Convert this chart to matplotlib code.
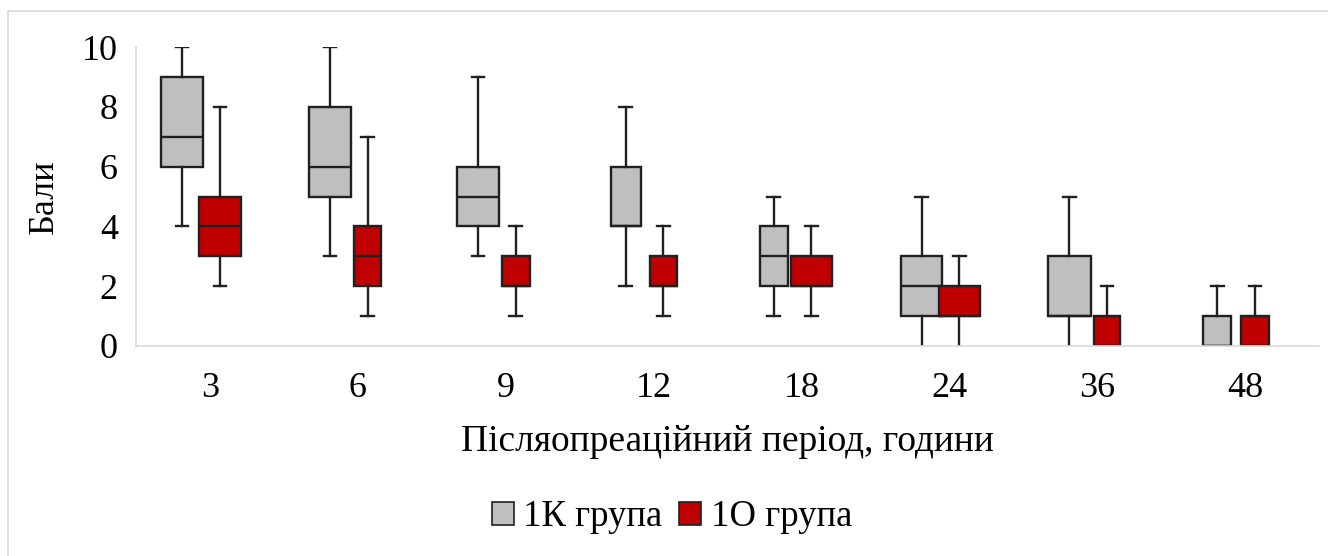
import numpy as np
import matplotlib.pyplot as plt
from matplotlib.patches import Patch, Rectangle

plt.rcParams['font.family'] = ['Liberation Serif', 'DejaVu Serif']

hours = ['3', '6', '9', '12', '18', '24', '36', '48']

# 1К група
k_lo = [4, 3, 3, 2, 1, 0, 0, 0]
k_q1 = [6, 5, 4, 4, 2, 1, 1, 0]
k_med = [7, 6, 5, 4, 3, 2, 1, 0]
k_q3 = [9, 8, 6, 6, 4, 3, 3, 1]
k_hi = [10, 10, 9, 8, 5, 5, 5, 2]

# 1О група
o_lo = [2, 1, 1, 1, 1, 0, 0, 0]
o_q1 = [3, 2, 2, 2, 2, 1, 0, 0]
o_med = [4, 3, 2, 2, 2, 1, 0, 0]
o_q3 = [5, 4, 3, 3, 3, 2, 1, 1]
o_hi = [8, 7, 4, 4, 4, 3, 2, 2]

# box widths as drawn in the original (style only)
k_w = [0.28, 0.28, 0.28, 0.2, 0.19, 0.28, 0.29, 0.19]
o_w = [0.28, 0.18, 0.19, 0.18, 0.28, 0.28, 0.18, 0.19]

def stats(lo, q1, med, q3, hi):
    return [dict(whislo=a, q1=b, med=c, q3=d, whishi=e, fliers=[])
            for a, b, c, d, e in zip(lo, q1, med, q3, hi)]

fig = plt.figure(figsize=(13.28, 5.56), dpi=100)
ax = fig.add_axes([136/1328, 1 - 346/556, 1183/1328, 299/556])

x = np.arange(len(hours))
edge = '#202020'
lw = 1.7

for st, pos, w, col in [(stats(k_lo, k_q1, k_med, k_q3, k_hi), x - 0.188, k_w, '#bfbfbf'),
                        (stats(o_lo, o_q1, o_med, o_q3, o_hi), x + 0.067, o_w, '#c00000')]:
    b = ax.bxp(st, positions=pos, widths=w, patch_artist=True, showfliers=False,
               boxprops=dict(facecolor=col, edgecolor=edge, linewidth=lw),
               medianprops=dict(color=edge, linewidth=lw),
               whiskerprops=dict(color=edge, linewidth=lw),
               capprops=dict(color=edge, linewidth=lw),
               capwidths=0.085, manage_ticks=False)
    # caps lying on the axis are not visible in the original
    for s, cap in zip([v for s in st for v in (s['whislo'], s['whishi'])], b['caps']):
        if s == 0:
            cap.set_visible(False)

ax.set_xlim(-0.5, 7.5)
ax.set_ylim(0, 10)
ax.set_yticks([0, 2, 4, 6, 8, 10])
ax.set_xticks(x)
ax.set_xticklabels(hours)
ax.tick_params(length=0, labelsize=26, colors='#000000')
ax.tick_params(axis='y', pad=13)
ax.tick_params(axis='x', pad=19)
for s in ['top', 'right']:
    ax.spines[s].set_visible(False)
for s in ['left', 'bottom']:
    ax.spines[s].set_color('#d9d9d9')
    ax.spines[s].set_linewidth(1.2)

ax.set_ylabel('Бали', fontsize=26, labelpad=15)
ax.set_xlabel('Післяопреаційний період, години', fontsize=27, labelpad=14)

handles = [Patch(facecolor='#bfbfbf', edgecolor=edge, linewidth=1.2, label='1К група'),
           Patch(facecolor='#c00000', edgecolor=edge, linewidth=1.2, label='1О група')]
fig.legend(handles=handles, loc='center', bbox_to_anchor=(672/1328, 1 - 517/556),
           ncol=2, frameon=False, fontsize=26.5, handlelength=0.6, handleheight=0.6,
           handletextpad=0.25, columnspacing=0.45)

fig.patches.append(Rectangle((8/1328, -0.1), 1.1, 1 - 11/556 + 0.1, transform=fig.transFigure,
                             fill=False, edgecolor='#d9d9d9', linewidth=1.2))

fig.savefig('out.png', dpi=100)
